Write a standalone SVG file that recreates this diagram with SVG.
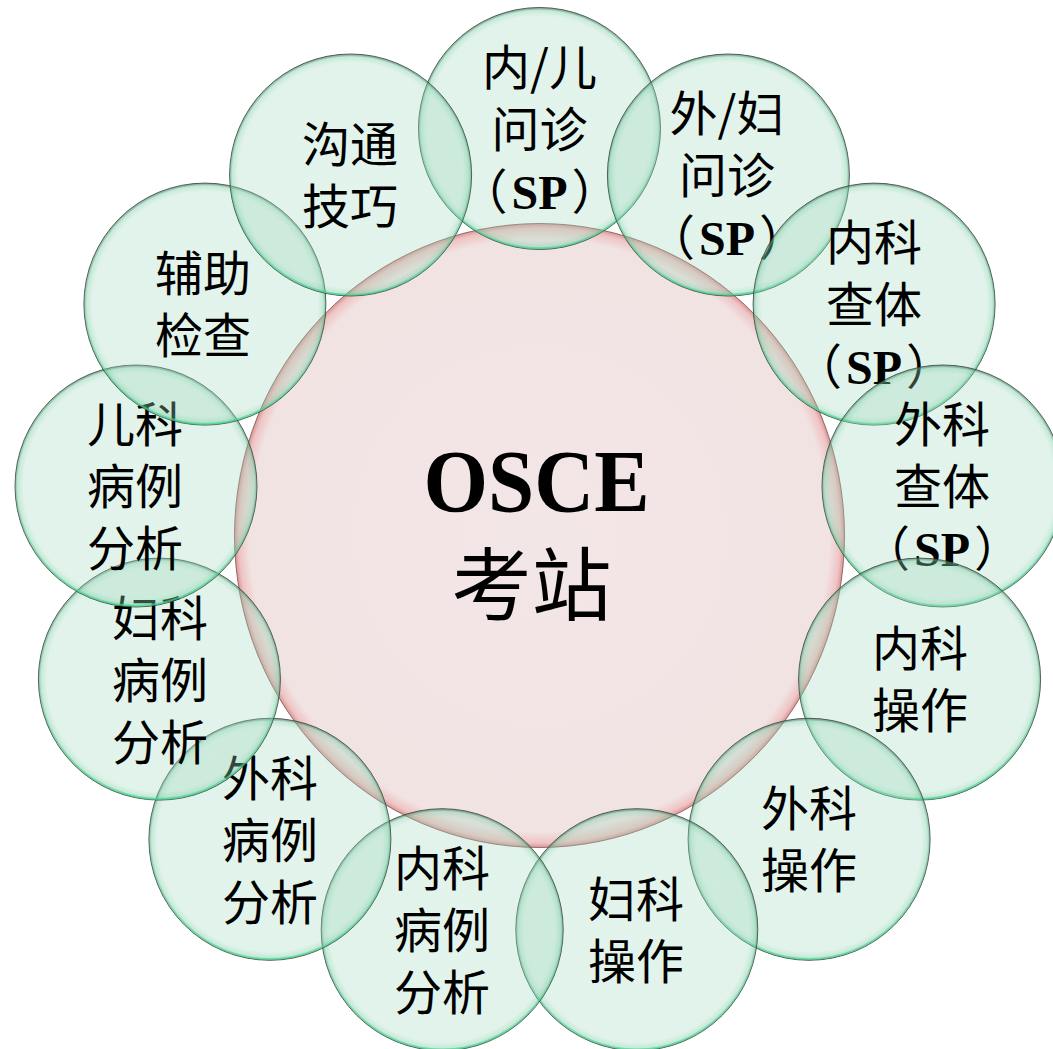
<svg xmlns="http://www.w3.org/2000/svg" width="1053" height="1049" viewBox="0 0 1053 1049">
<defs>
<radialGradient id="pfill" cx="0.5" cy="0.5" r="0.5">
<stop offset="0" stop-color="#f3e6e6"/>
<stop offset="0.95" stop-color="#f2e3e3"/>
<stop offset="0.985" stop-color="#eec4c4"/>
<stop offset="1" stop-color="#de9494"/>
</radialGradient>
<radialGradient id="gfill" cx="0.5" cy="0.5" r="0.5">
<stop offset="0" stop-color="#9fd8bc" stop-opacity="0.29"/>
<stop offset="0.93" stop-color="#9fd8bc" stop-opacity="0.31"/>
<stop offset="0.98" stop-color="#6cc99c" stop-opacity="0.42"/>
<stop offset="1" stop-color="#3b6a55" stop-opacity="0.6"/>
</radialGradient>
<linearGradient id="rim" x1="0" y1="0" x2="0" y2="1">
<stop offset="0" stop-color="#6f8a7c" stop-opacity="0.3"/>
<stop offset="0.5" stop-color="#8fd8b2" stop-opacity="0.25"/>
<stop offset="1" stop-color="#45dc95" stop-opacity="0.65"/>
</linearGradient>
<style>
.core{fill:url(#pfill);stroke:#5b3b3b;stroke-width:1;stroke-opacity:0.65}
.bub{fill:url(#gfill);stroke:#2d3f37;stroke-width:1;stroke-opacity:0.8}
.rim{fill:none;stroke:url(#rim);stroke-width:2}
.t{font-family:"Noto Sans CJK SC","Noto Sans CJK JP",sans-serif;font-size:48px;fill:#000;text-anchor:middle}
.sp{font-family:"Liberation Serif","Times New Roman",serif;font-weight:bold}
.osce{font-family:"Liberation Serif","Times New Roman",serif;font-weight:bold;font-size:88px;fill:#000;text-anchor:middle}
.kz{font-family:"Noto Sans CJK SC","Noto Sans CJK JP",sans-serif;font-size:80px;fill:#000;text-anchor:middle}
</style>
</defs>
<rect width="1053" height="1049" fill="#ffffff"/>
<g id="connectors"/>
<g id="center">
<ellipse class="core" cx="539.5" cy="535.5" rx="305" ry="312"/>
<text class="osce" x="536.5" y="511" textLength="226" lengthAdjust="spacingAndGlyphs">OSCE</text>
<text class="kz" x="531.5" y="614">考站</text>
</g>
<g id="n0">
<circle class="bub" cx="539.5" cy="128.5" r="121"/><circle class="rim" cx="539.5" cy="128.5" r="119.8"/>
<text class="t" x="539.5" y="84.5">内/儿</text>
<text class="t" x="539.5" y="146.5">问诊</text>
<text class="t" x="539.5" y="208.5">（<tspan class="sp" dx="4">SP</tspan><tspan dx="4">）</tspan></text>
</g>
<g id="n1">
<circle class="bub" cx="728.4" cy="175" r="121"/><circle class="rim" cx="728.4" cy="175" r="119.8"/>
<text class="t" x="727" y="131">外/妇</text>
<text class="t" x="727" y="193">问诊</text>
<text class="t" x="727" y="255">（<tspan class="sp" dx="4">SP</tspan><tspan dx="4">）</tspan></text>
</g>
<g id="n2">
<circle class="bub" cx="874.1" cy="304.1" r="121"/><circle class="rim" cx="874.1" cy="304.1" r="119.8"/>
<text class="t" x="874" y="260">内科</text>
<text class="t" x="874" y="322">查体</text>
<text class="t" x="874" y="384">（<tspan class="sp" dx="4">SP</tspan><tspan dx="4">）</tspan></text>
</g>
<g id="n3">
<circle class="bub" cx="943" cy="486" r="121"/><circle class="rim" cx="943" cy="486" r="119.8"/>
<text class="t" x="942" y="442">外科</text>
<text class="t" x="942" y="504">查体</text>
<text class="t" x="942" y="566">（<tspan class="sp" dx="4">SP</tspan><tspan dx="4">）</tspan></text>
</g>
<g id="n4">
<circle class="bub" cx="919.6" cy="679.1" r="121"/><circle class="rim" cx="919.6" cy="679.1" r="119.8"/>
<text class="t" x="920" y="666">内科</text>
<text class="t" x="920" y="728">操作</text>
</g>
<g id="n5">
<circle class="bub" cx="809.1" cy="839.3" r="121"/><circle class="rim" cx="809.1" cy="839.3" r="119.8"/>
<text class="t" x="809" y="826">外科</text>
<text class="t" x="809" y="888">操作</text>
</g>
<g id="n6">
<circle class="bub" cx="636.8" cy="929.7" r="121"/><circle class="rim" cx="636.8" cy="929.7" r="119.8"/>
<text class="t" x="636" y="917">妇科</text>
<text class="t" x="636" y="979">操作</text>
</g>
<g id="n7">
<circle class="bub" cx="442.2" cy="929.7" r="121"/><circle class="rim" cx="442.2" cy="929.7" r="119.8"/>
<text class="t" x="442" y="886">内科</text>
<text class="t" x="442" y="948">病例</text>
<text class="t" x="442" y="1010">分析</text>
</g>
<g id="n8">
<circle class="bub" cx="269.9" cy="839.3" r="121"/><circle class="rim" cx="269.9" cy="839.3" r="119.8"/>
<text class="t" x="270" y="796">外科</text>
<text class="t" x="270" y="858">病例</text>
<text class="t" x="270" y="920">分析</text>
</g>
<g id="n9">
<circle class="bub" cx="159.4" cy="679.1" r="121"/><circle class="rim" cx="159.4" cy="679.1" r="119.8"/>
<text class="t" x="160" y="636">妇科</text>
<text class="t" x="160" y="698">病例</text>
<text class="t" x="160" y="760">分析</text>
</g>
<g id="n10">
<circle class="bub" cx="136" cy="486" r="121"/><circle class="rim" cx="136" cy="486" r="119.8"/>
<text class="t" x="135" y="442">儿科</text>
<text class="t" x="135" y="504">病例</text>
<text class="t" x="135" y="566">分析</text>
</g>
<g id="n11">
<circle class="bub" cx="204.9" cy="304.1" r="121"/><circle class="rim" cx="204.9" cy="304.1" r="119.8"/>
<text class="t" x="203" y="291">辅助</text>
<text class="t" x="203" y="353">检查</text>
</g>
<g id="n12">
<circle class="bub" cx="350.6" cy="175" r="121"/><circle class="rim" cx="350.6" cy="175" r="119.8"/>
<text class="t" x="350" y="162">沟通</text>
<text class="t" x="350" y="224">技巧</text>
</g>
</svg>
